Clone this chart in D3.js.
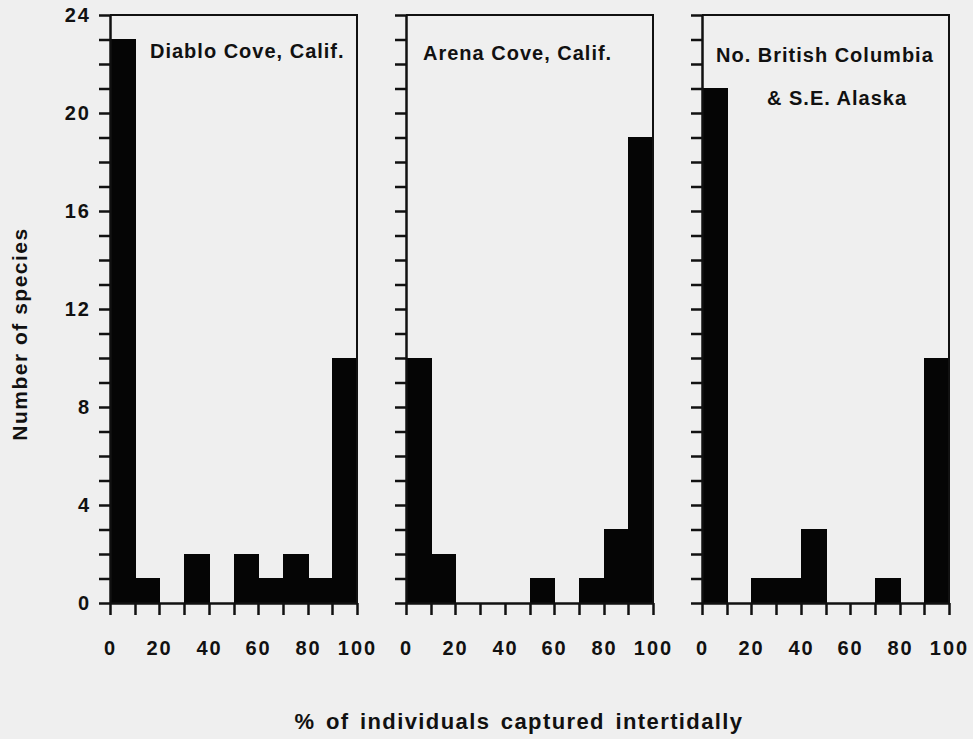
<!DOCTYPE html>
<html>
<head>
<meta charset="utf-8">
<script src="https://cdn.jsdelivr.net/npm/d3@7"></script>
<style>
    html, body { margin: 0; padding: 0; background: #efefef; }
    svg { display: block; }
    text { font-family: "Liberation Sans", Arial, Helvetica, sans-serif; font-weight: bold; fill: #111; }
</style>
</head>
<body>
<svg id="chart" width="973" height="739"></svg>
<script>
// bin starts (% of individuals captured intertidally), each bin is 10 wide
const binStarts = [0, 10, 20, 30, 40, 50, 60, 70, 80, 90];

// number of species per bin
const diabloCove = [23, 1, 0, 2, 0, 2, 1, 2, 1, 10];
const arenaCove = [10, 2, 0, 0, 0, 1, 0, 1, 3, 19];
const britishColumbiaAlaska = [21, 0, 1, 1, 3, 0, 0, 1, 0, 10];

const panelTitles = [
    ["Diablo Cove, Calif."],
    ["Arena Cove, Calif."],
    ["No. British Columbia", "& S.E. Alaska"]
];

const xTickLabels = [0, 20, 40, 60, 80, 100];
const yTickLabels = [0, 4, 8, 12, 16, 20, 24];

const series = [diabloCove, arenaCove, britishColumbiaAlaska];

const width = 973;
const height = 739;
const panelLeft = 110;
const panelStep = 296;
const panelWidth = 247;
const plotTop = 15;
const plotBottom = 603;

// where each title line starts inside its panel
const titleLayout = [
    [{ x: 40, y: 58 }],
    [{ x: 17, y: 60 }],
    [{ x: 14, y: 62 }, { x: 65, y: 105 }]
];

const svg = d3.select("#chart").attr("viewBox", [0, 0, width, height]);

svg.append("rect")
    .attr("width", width)
    .attr("height", height)
    .attr("fill", "#efefef");

const y = d3.scaleLinear().domain([0, 24]).range([plotBottom, plotTop]);

series.forEach((values, i) => {
    const x0 = panelLeft + i * panelStep;
    const x = d3.scaleLinear().domain([0, 100]).range([x0, x0 + panelWidth]).interpolate(d3.interpolateRound);
    const g = svg.append("g");

    // bars, snapped to whole pixels; same-colour stroke closes seams between neighbours
    g.append("g")
        .attr("shape-rendering", "crispEdges")
        .selectAll("rect")
        .data(values.map((v, j) => ({ start: binStarts[j], value: v })).filter(d => d.value > 0))
        .join("rect")
        .attr("x", d => x(d.start))
        .attr("width", d => x(d.start + 10) - x(d.start))
        .attr("y", d => y(d.value))
        .attr("height", d => y(0) - y(d.value))
        .attr("fill", "#050505")
        .attr("stroke", "#050505")
        .attr("stroke-width", 1);

    // frame: top and right border
    g.append("path")
        .attr("d", `M${x(0)},${y(24)}H${x(100)}V${y(0)}`)
        .attr("fill", "none")
        .attr("stroke", "#111")
        .attr("stroke-width", 2);

    // left axis with a tick every species
    const yAxis = d3.axisLeft(y)
        .tickValues(d3.range(0, 25))
        .tickSize(11)
        .tickSizeOuter(0)
        .tickPadding(8)
        .tickFormat(v => (i === 0 && yTickLabels.includes(v)) ? v : "");

    const ya = g.append("g")
        .attr("transform", `translate(${x0},0)`)
        .call(yAxis);

    // bottom axis with a tick every 10 %
    const xAxis = d3.axisBottom(x)
        .tickValues(d3.range(0, 101, 10))
        .tickSize(12)
        .tickSizeOuter(0)
        .tickPadding(26)
        .tickFormat(v => xTickLabels.includes(v) ? v : "");

    const xa = g.append("g")
        .attr("transform", `translate(0,${plotBottom})`)
        .call(xAxis);

    [ya, xa].forEach(a => {
        a.select(".domain").attr("stroke", "#111").attr("stroke-width", 2.5);
        a.selectAll(".tick line").attr("stroke", "#111").attr("stroke-width", 2.5);
        a.selectAll(".tick text")
            .attr("fill", "#111")
            .style("font-size", "20px")
            .style("letter-spacing", "2px")
            .style("font-family", "'Liberation Sans', Arial, sans-serif")
            .style("font-weight", "bold");
    });

    // panel title
    panelTitles[i].forEach((line, k) => {
        g.append("text")
            .attr("x", x0 + titleLayout[i][k].x)
            .attr("y", titleLayout[i][k].y)
            .style("font-size", "20px")
            .style("letter-spacing", "1px")
            .text(line);
    });
});

// axis titles
svg.append("text")
    .attr("transform", `translate(27,${(plotTop + plotBottom) / 2 + 25}) rotate(-90)`)
    .attr("text-anchor", "middle")
    .style("font-size", "21px")
    .style("letter-spacing", "1.5px")
    .text("Number of species");

svg.append("text")
    .attr("x", 519)
    .attr("y", 729)
    .attr("text-anchor", "middle")
    .style("font-size", "22px")
    .style("letter-spacing", "1.4px")
    .style("word-spacing", "3px")
    .text("% of individuals captured intertidally");
</script>
</body>
</html>
